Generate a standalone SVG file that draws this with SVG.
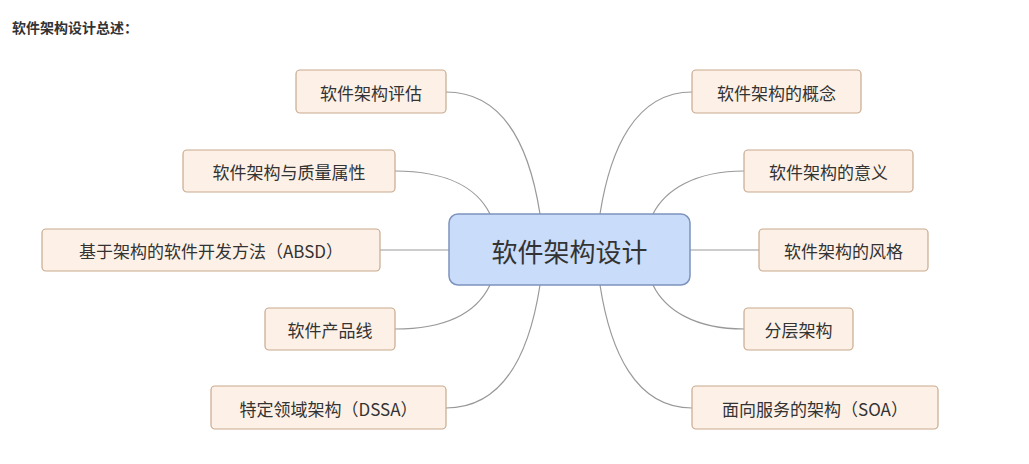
<svg xmlns="http://www.w3.org/2000/svg" width="1029" height="464" viewBox="0 0 1029 464">
<style>
text{font-family:"Noto Sans CJK SC","Liberation Sans",sans-serif;fill:#333;}
.n rect{fill:#fdf1e7;stroke:#c9aa8e;stroke-width:1.2;}
.n text{font-size:17px;text-anchor:middle;dominant-baseline:central;}
#edges path{fill:none;stroke:#999;stroke-width:1.2;}
</style>
<rect width="1029" height="464" fill="#fff"/>
<text x="12" y="33" font-size="14" font-weight="bold" fill="#222">软件架构设计总述：</text>
<g id="edges">
<path d="M446,92 C505,92 530,150 540,214"/>
<path d="M395,171 C450,171 478,190 490,214"/>
<path d="M380,250 L449,250"/>
<path d="M395,329 C450,329 478,310 490,285"/>
<path d="M446,408 C505,408 530,350 540,285"/>
<path d="M692,92 C635,92 610,150 600,214"/>
<path d="M744,171 C695,171 665,190 653,214"/>
<path d="M690,250 L759,250"/>
<path d="M744,329 C695,329 665,310 653,285"/>
<path d="M692,408 C635,408 610,350 600,285"/>
</g>
<g id="center"><rect x="449" y="214" width="241" height="71" rx="9" fill="#c9dcf9" stroke="#7d93bd" stroke-width="1.5"/><text x="569.5" y="250" font-size="26" text-anchor="middle" dominant-baseline="central" fill="#444">软件架构设计</text></g>
<g id="n1" class="n"><rect x="296" y="70" width="150" height="43" rx="4"/><text x="371" y="92">软件架构评估</text></g>
<g id="n2" class="n"><rect x="183" y="150" width="212" height="42" rx="4"/><text x="289" y="171">软件架构与质量属性</text></g>
<g id="n3" class="n"><rect x="42" y="229" width="338" height="42" rx="4"/><text x="211" y="250">基于架构的软件开发方法（ABSD）</text></g>
<g id="n4" class="n"><rect x="265" y="308" width="130" height="42" rx="4"/><text x="330" y="329">软件产品线</text></g>
<g id="n5" class="n"><rect x="211" y="386" width="235" height="43" rx="4"/><text x="328.5" y="408">特定领域架构（DSSA）</text></g>
<g id="n6" class="n"><rect x="692" y="70" width="169" height="43" rx="4"/><text x="776.5" y="92">软件架构的概念</text></g>
<g id="n7" class="n"><rect x="744" y="150" width="169" height="42" rx="4"/><text x="828.5" y="171">软件架构的意义</text></g>
<g id="n8" class="n"><rect x="759" y="229" width="169" height="42" rx="4"/><text x="843.5" y="250">软件架构的风格</text></g>
<g id="n9" class="n"><rect x="744" y="308" width="109" height="42" rx="4"/><text x="798.5" y="329">分层架构</text></g>
<g id="n10" class="n"><rect x="692" y="386" width="246" height="43" rx="4"/><text x="815" y="408">面向服务的架构（SOA）</text></g>
</svg>
